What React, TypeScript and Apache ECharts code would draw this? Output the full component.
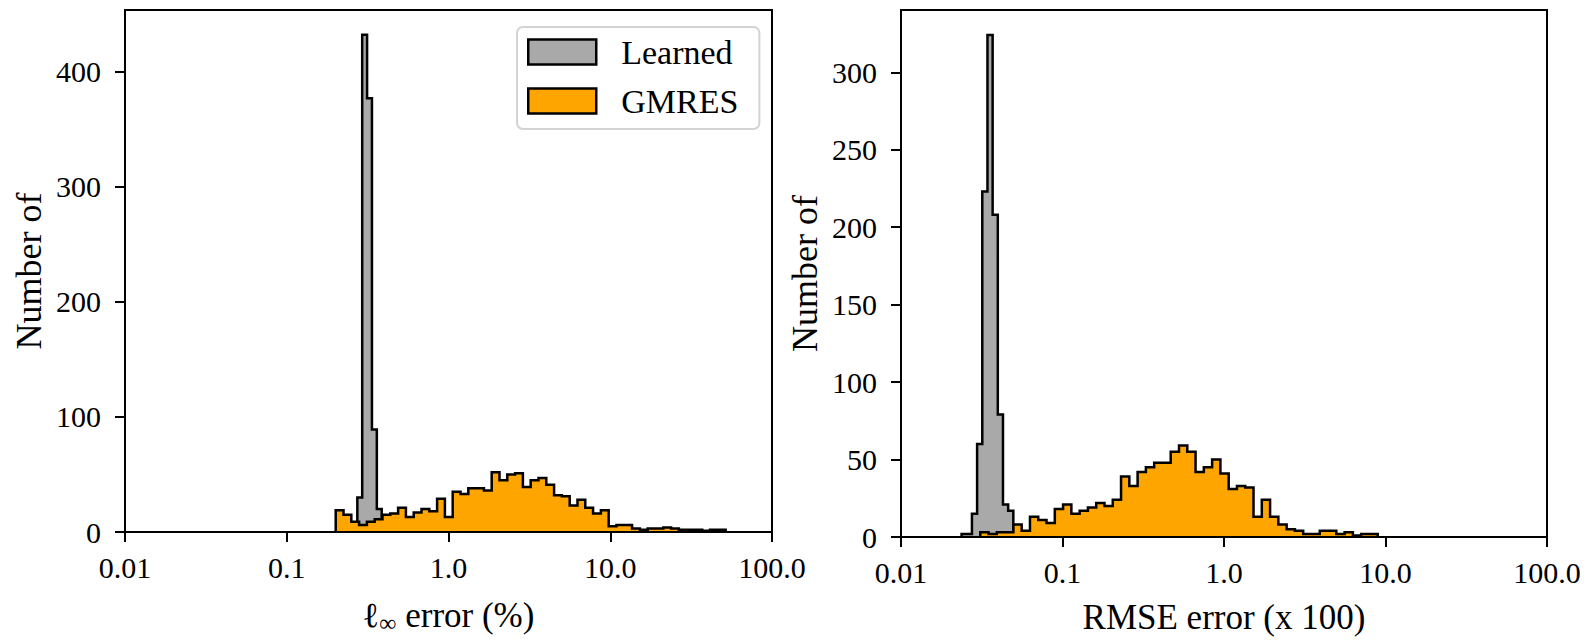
import React, { useEffect, useRef } from 'react';
import * as echarts from 'echarts';

// ---- Data ----
const xTickValues = [0.01, 0.1, 1, 10, 100];
const leftYTicks = [0, 100, 200, 300, 400];
const rightYTicks = [0, 50, 100, 150, 200, 250, 300];

// Left panel: l_inf error (%)
const leftLearnedRange = [0.2731, 0.3864];
const leftLearnedCounts = [30, 432, 377, 89, 20];
const leftGmresRange = [0.2008, 51.7];
const leftGmresCounts = [
  19, 15, 9, 6, 9, 11, 15, 16, 21, 13, 17, 20, 18, 29, 13, 35, 33, 38, 38, 36,
  52, 45, 50, 51, 39, 45, 47, 41, 32, 31, 23, 28, 21, 16, 19, 5, 6, 6, 3, 2,
  3, 3, 4, 3, 2, 2, 2, 1, 2, 2,
];

// Right panel: RMSE error (x 100)
const rightLearnedRange = [0.02372, 0.04961];
const rightLearnedCounts = [2, 2, 15, 60, 223, 324, 208, 79, 21, 17];
const rightGmresRange = [0.03097, 8.95];
const rightGmresCounts = [
  3, 2, 3, 3, 8, 4, 13, 11, 9, 18, 21, 15, 17, 19, 22, 20, 24, 39, 33, 42,
  45, 48, 48, 55, 59, 55, 42, 45, 50, 41, 31, 33, 32, 13, 24, 13, 8, 5, 4, 2,
  2, 4, 4, 2, 3, 1, 2, 2,
];

const seriesNames = ['Learned', 'GMRES'];
const leftXName = '{l|ℓ}{s|∞}{t| error (%)}';
const rightXName = 'RMSE error (x 100)';
const yName = 'Number of';

const GRAY = '#A9A9A9';
const ORANGE = '#FFA500';
const FONT = "'Liberation Serif', 'DejaVu Serif', serif";

// step outline of a histogram with log-spaced bins
function outline(range: number[], counts: number[]) {
  const a = Math.log10(range[0]);
  const b = Math.log10(range[1]);
  const n = counts.length;
  const edge = (i: number) => Math.pow(10, a + ((b - a) * i) / n);
  const pts: number[][] = [[edge(0), 0]];
  counts.forEach((c, i) => {
    pts.push([edge(i), c]);
    pts.push([edge(i + 1), c]);
  });
  pts.push([edge(n), 0]);
  return pts;
}

function fmtX(v: number) {
  const e = Math.round(Math.log10(v));
  return e < 0 ? v.toFixed(-e) : v.toFixed(1);
}

function makeX(gridIndex: number, name: string) {
  return {
    type: 'log',
    logBase: 10,
    gridIndex,
    min: xTickValues[0],
    max: xTickValues[xTickValues.length - 1],
    splitNumber: 4,
    z: 5,
    axisLine: { show: true, lineStyle: { color: '#000', width: 2 } },
    axisTick: { show: true, length: 10, lineStyle: { color: '#000', width: 2 } },
    minorTick: { show: false },
    splitLine: { show: false },
    axisLabel: { formatter: fmtX, fontSize: 30, color: '#000', fontFamily: FONT, margin: 20 },
    name,
    nameLocation: 'middle',
    nameGap: 63,
    nameTextStyle: {
      fontSize: 35,
      color: '#000',
      fontFamily: FONT,
      rich: {
        l: { fontSize: 35, fontFamily: FONT, color: '#000', lineHeight: 40 },
        s: { fontSize: 24, fontFamily: FONT, color: '#000', lineHeight: 22, verticalAlign: 'bottom' },
        t: { fontSize: 35, fontFamily: FONT, color: '#000', lineHeight: 40 },
      },
    },
  };
}

function makeY(gridIndex: number, max: number, interval: number, ticks: number[]) {
  return {
    type: 'value',
    gridIndex,
    min: 0,
    max,
    interval,
    z: 5,
    axisLine: { show: true, lineStyle: { color: '#000', width: 2 } },
    axisTick: { show: true, length: 10, lineStyle: { color: '#000', width: 2 }, customValues: ticks },
    splitLine: { show: false },
    axisLabel: {
      customValues: ticks,
      fontSize: 30,
      color: '#000',
      fontFamily: FONT,
      margin: 24,
    },
    name: yName,
    nameLocation: 'middle',
    nameGap: 78,
    nameTextStyle: { fontSize: 36, color: '#000', fontFamily: FONT },
  };
}

function histSeries(name: string, color: string, data: number[][], axis: number, z: number) {
  return {
    type: 'line',
    name,
    xAxisIndex: axis,
    yAxisIndex: axis,
    data,
    symbol: 'none',
    silent: true,
    z,
    lineStyle: { color: '#000', width: 2.5, join: 'miter', cap: 'butt' },
    areaStyle: { color, opacity: 1, origin: 'start' },
    itemStyle: { color },
  };
}

export default function App() {
  const ref = useRef<HTMLDivElement>(null);
  useEffect(() => {
    if (!ref.current) return;
    const chart = echarts.init(ref.current, undefined, { renderer: 'svg' });
    const option: any = {
      animation: false,
      backgroundColor: '#fff',
      grid: [
        { left: 125, top: 10, width: 647, height: 529, show: true, borderColor: '#000', borderWidth: 2, backgroundColor: 'transparent' },
        { left: 901, top: 10, width: 646, height: 529, show: true, borderColor: '#000', borderWidth: 2, backgroundColor: 'transparent' },
      ],
      xAxis: [makeX(0, leftXName), makeX(1, rightXName)],
      yAxis: [
        makeY(0, 453.6, 100, leftYTicks),
        makeY(1, 340.2, 50, rightYTicks),
      ],
      legend: {
        show: true,
        orient: 'vertical',
        left: 517,
        top: 27,
        selectedMode: false,
        itemWidth: 68,
        itemHeight: 25,
        itemGap: 15,
        padding: [8, 21, 11, 10],
        backgroundColor: 'rgba(255,255,255,0.8)',
        borderColor: '#d3d3d3',
        borderWidth: 2,
        borderRadius: 6,
        textStyle: { fontSize: 34, lineHeight: 25, color: '#000', fontFamily: FONT, padding: [0, 0, 0, 20] },
        data: [
          { name: seriesNames[0], icon: 'rect', itemStyle: { color: GRAY, borderColor: '#000', borderWidth: 2.5 } },
          { name: seriesNames[1], icon: 'rect', itemStyle: { color: ORANGE, borderColor: '#000', borderWidth: 2.5 } },
        ],
      },
      series: [
        histSeries(seriesNames[0], GRAY, outline(leftLearnedRange, leftLearnedCounts), 0, 2),
        histSeries(seriesNames[1], ORANGE, outline(leftGmresRange, leftGmresCounts), 0, 3),
        histSeries(seriesNames[0], GRAY, outline(rightLearnedRange, rightLearnedCounts), 1, 2),
        histSeries(seriesNames[1], ORANGE, outline(rightGmresRange, rightGmresCounts), 1, 3),
      ],
    };
    chart.setOption(option);
    return () => chart.dispose();
  }, []);
  return (
    <div
      ref={ref}
      style={{ position: 'fixed', left: 0, top: 0, width: 1588, height: 640, background: '#fff' }}
    />
  );
}
